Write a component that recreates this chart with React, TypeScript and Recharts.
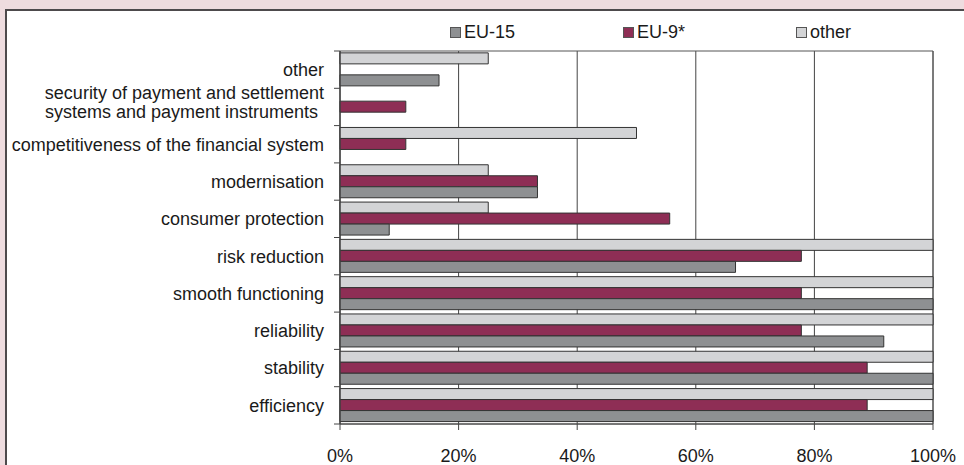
import React from "react"
import {
    BarChart,
    Bar,
    XAxis,
    YAxis,
    CartesianGrid,
    ReferenceArea,
} from "recharts"

const categories = [
    "other",
    "security of payment and settlement\nsystems and payment instruments",
    "competitiveness of the financial system",
    "modernisation",
    "consumer protection",
    "risk reduction",
    "smooth functioning",
    "reliability",
    "stability",
    "efficiency",
]

const eu15 = [16.7, 0, 0, 33.3, 8.3, 66.7, 100, 91.7, 100, 100]
const eu9 = [0, 11.1, 11.1, 33.3, 55.6, 77.8, 77.8, 77.8, 88.9, 88.9]
const otherValues = [25, 0, 50, 25, 25, 100, 100, 100, 100, 100]

const xTicks = [0, 20, 40, 60, 80, 100]

const seriesLegend = [
    { name: "EU-15", color: "#8e9092" },
    { name: "EU-9*", color: "#8e2e55" },
    { name: "other", color: "#d3d4d6" },
]

const data = categories.map((name, i) => ({
    name,
    eu15: eu15[i],
    eu9: eu9[i],
    other: otherValues[i],
}))

const FONT = "'Liberation Sans', Arial, sans-serif"
const FS = 18
const TOP = 51
const BOTTOM = 424
const BAND = (BOTTOM - TOP) / categories.length

function CategoryTick(props: any) {
    const { x, y, payload, index } = props
    const lines = String(payload.value).split("\n")
    const axisX = x + 16
    return (
        <g>
            {index === 0 && (
                <line x1={axisX - 6} x2={axisX} y1={y - BAND / 2} y2={y - BAND / 2} stroke="#444" />
            )}
            <line x1={axisX - 6} x2={axisX} y1={y + BAND / 2} y2={y + BAND / 2} stroke="#444" />
            {lines.length === 1 ? (
                <text x={x} y={y} dy="0.355em" textAnchor="end" fill="#1a1a1a" fontSize={FS} fontFamily={FONT}>
                    {lines[0]}
                </text>
            ) : (
                <text textAnchor="end" fill="#1a1a1a" fontSize={FS} fontFamily={FONT}>
                    <tspan x={x} y={y - 14} dy="0.355em">{lines[0]}</tspan>
                    <tspan x={x - 6} y={y + 5} dy="0.355em">{lines[1]}</tspan>
                </text>
            )}
        </g>
    )
}

export default function App() {
    return (
        <div
            style={{
                position: "fixed",
                left: 0,
                top: 0,
                width: 964,
                height: 465,
                background: "#eedcdf",
                overflow: "hidden",
            }}
        >
            <div
                style={{
                    position: "absolute",
                    left: 5,
                    top: 9,
                    width: 980,
                    height: 480,
                    background: "#fff",
                    border: "2px solid #4d4a4c",
                }}
            />
            <div
                style={{
                    position: "absolute",
                    left: 450,
                    top: 22,
                    display: "flex",
                    fontFamily: FONT,
                    fontSize: FS,
                    color: "#1a1a1a",
                }}
            >
                {seriesLegend.map((s) => (
                    <div key={s.name} style={{ width: 173, display: "flex", alignItems: "center" }}>
                        <span
                            style={{
                                display: "inline-block",
                                width: 9,
                                height: 9,
                                background: s.color,
                                border: "1px solid #555",
                                marginRight: 3,
                            }}
                        />
                        <span>{s.name}</span>
                    </div>
                ))}
            </div>
            <div style={{ position: "absolute", left: 0, top: 0 }}>
                <BarChart
                    width={964}
                    height={465}
                    data={data}
                    layout="vertical"
                    margin={{ top: TOP, right: 31, bottom: 0, left: 0 }}
                    barGap={0}
                    barCategoryGap="5%"
                >
                    <CartesianGrid horizontal={false} stroke="#444" strokeDasharray="" />
                    <XAxis
                        type="number"
                        domain={[0, 100]}
                        ticks={xTicks}
                        tickFormatter={(v) => v + "%"}
                        height={465 - BOTTOM}
                        tickSize={6}
                        tickMargin={19}
                        stroke="#444"
                        tick={{ fill: "#1a1a1a", fontSize: FS, fontFamily: FONT }}
                    />
                    <YAxis
                        type="category"
                        dataKey="name"
                        width={340}
                        tickLine={false}
                        tickSize={6}
                        tickMargin={10}
                        stroke="#444"
                        interval={0}
                        tick={<CategoryTick />}
                    />
                    <ReferenceArea x1={0} x2={100} fill="none" stroke="#555" strokeOpacity={1} ifOverflow="visible" />
                    <Bar dataKey="other" name="other" fill="#d3d4d6" stroke="#333" strokeWidth={1} isAnimationActive={false} />
                    <Bar dataKey="eu9" name="EU-9*" fill="#8e2e55" stroke="#333" strokeWidth={1} isAnimationActive={false} />
                    <Bar dataKey="eu15" name="EU-15" fill="#8e9092" stroke="#333" strokeWidth={1} isAnimationActive={false} />
                </BarChart>
            </div>
        </div>
    )
}
